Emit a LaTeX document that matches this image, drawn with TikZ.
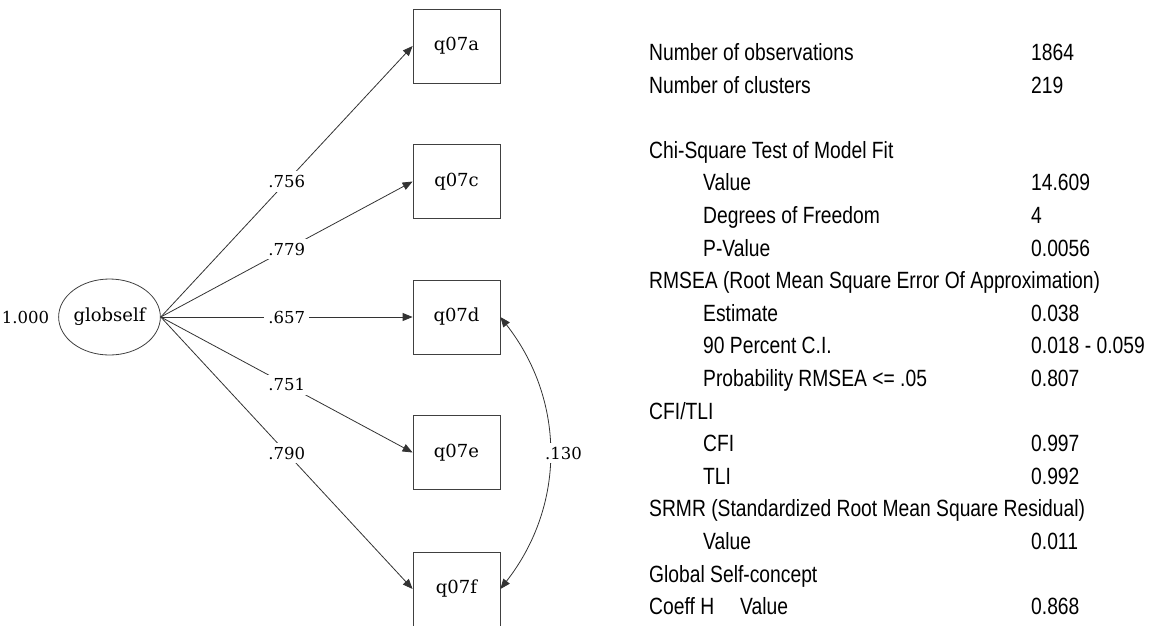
\documentclass[tikz,border=0pt]{standalone}
\usepackage{fontspec}
\setmainfont{DejaVu Serif}
\newfontfamily\narrowsans[FakeStretch=0.82]{Liberation Sans}
\usepackage{tikz}
\usetikzlibrary{shapes.geometric, arrows.meta, positioning}

\begin{document}
\begin{tikzpicture}[x=1pt, y=-1pt,
    latent/.style = {ellipse, draw=black!75, line width=0.8pt, minimum width=87pt, minimum height=76pt, inner sep=0pt, font=\fontsize{18}{20}\selectfont},
    indicator/.style = {rectangle, draw=black!75, line width=0.8pt, minimum width=87pt, minimum height=74pt, inner sep=0pt, font=\fontsize{18}{20}\selectfont},
    coef/.style = {fill=white, inner sep=4pt, font=\fontsize{16.5}{18}\selectfont},
    load/.style = {draw=black!80, line width=0.8pt, -{Triangle[length=10pt, width=8pt]}},
    cov/.style = {draw=black!80, line width=0.8pt, {Triangle[length=10pt, width=8pt]}-{Triangle[length=10pt, width=8pt]}},
    fitlab/.style = {anchor=base west, inner sep=0pt, font=\narrowsans\fontsize{23.5}{26}\selectfont}
]
\useasboundingbox (0,0) rectangle (1154,625);

% Nodes
\node (globself) [latent] at (109.5,317) {globself};
\node (gvar) [coef, inner sep=2pt, left=7pt of globself] {1.000};

% Loadings
\foreach \n/\y/\c in {a/46/.756, c/181.5/.779, d/317/.657, e/452.5/.751, f/589/.790} {
  \node (q07\n) [indicator] at (456.5,\y) {q07\n};
  \draw [load] (globself.east) -- node[coef] (l\n) {\c} (q07\n.west);
}

% Residual covariance
\draw [cov] (q07d.east) to[bend left=38] node[coef, xshift=14pt] (rdf) {.130} (q07f.east);

% Fit summary
\foreach \k/\x/\txt in {0/649/Number of observations, 1/649/Number of clusters,
    3/649/Chi-Square Test of Model Fit, 4/703/Value, 5/703/Degrees of Freedom, 6/703/P-Value,
    7/649/RMSEA (Root Mean Square Error Of Approximation), 8/703/Estimate, 9/703/90 Percent C.I.,
    10/703/Probability RMSEA <= .05, 11/649/{CFI/TLI}, 12/703/CFI, 13/703/TLI,
    14/649/SRMR (Standardized Root Mean Square Residual), 15/703/Value,
    16/649/Global Self-concept, 17/649/\makebox[91pt][l]{Coeff H}Value}
  \node (fit\k) [fitlab] at (\x,{60.5+32.6*\k}) {\txt};

\foreach \k/\v in {0/1864, 1/219, 4/14.609, 5/4, 6/0.0056, 8/0.038, 9/0.018 - 0.059,
    10/0.807, 12/0.997, 13/0.992, 15/0.011, 17/0.868}
  \node (val\k) [fitlab] at (1031,{60.5+32.6*\k}) {\v};

\end{tikzpicture}
\end{document}
